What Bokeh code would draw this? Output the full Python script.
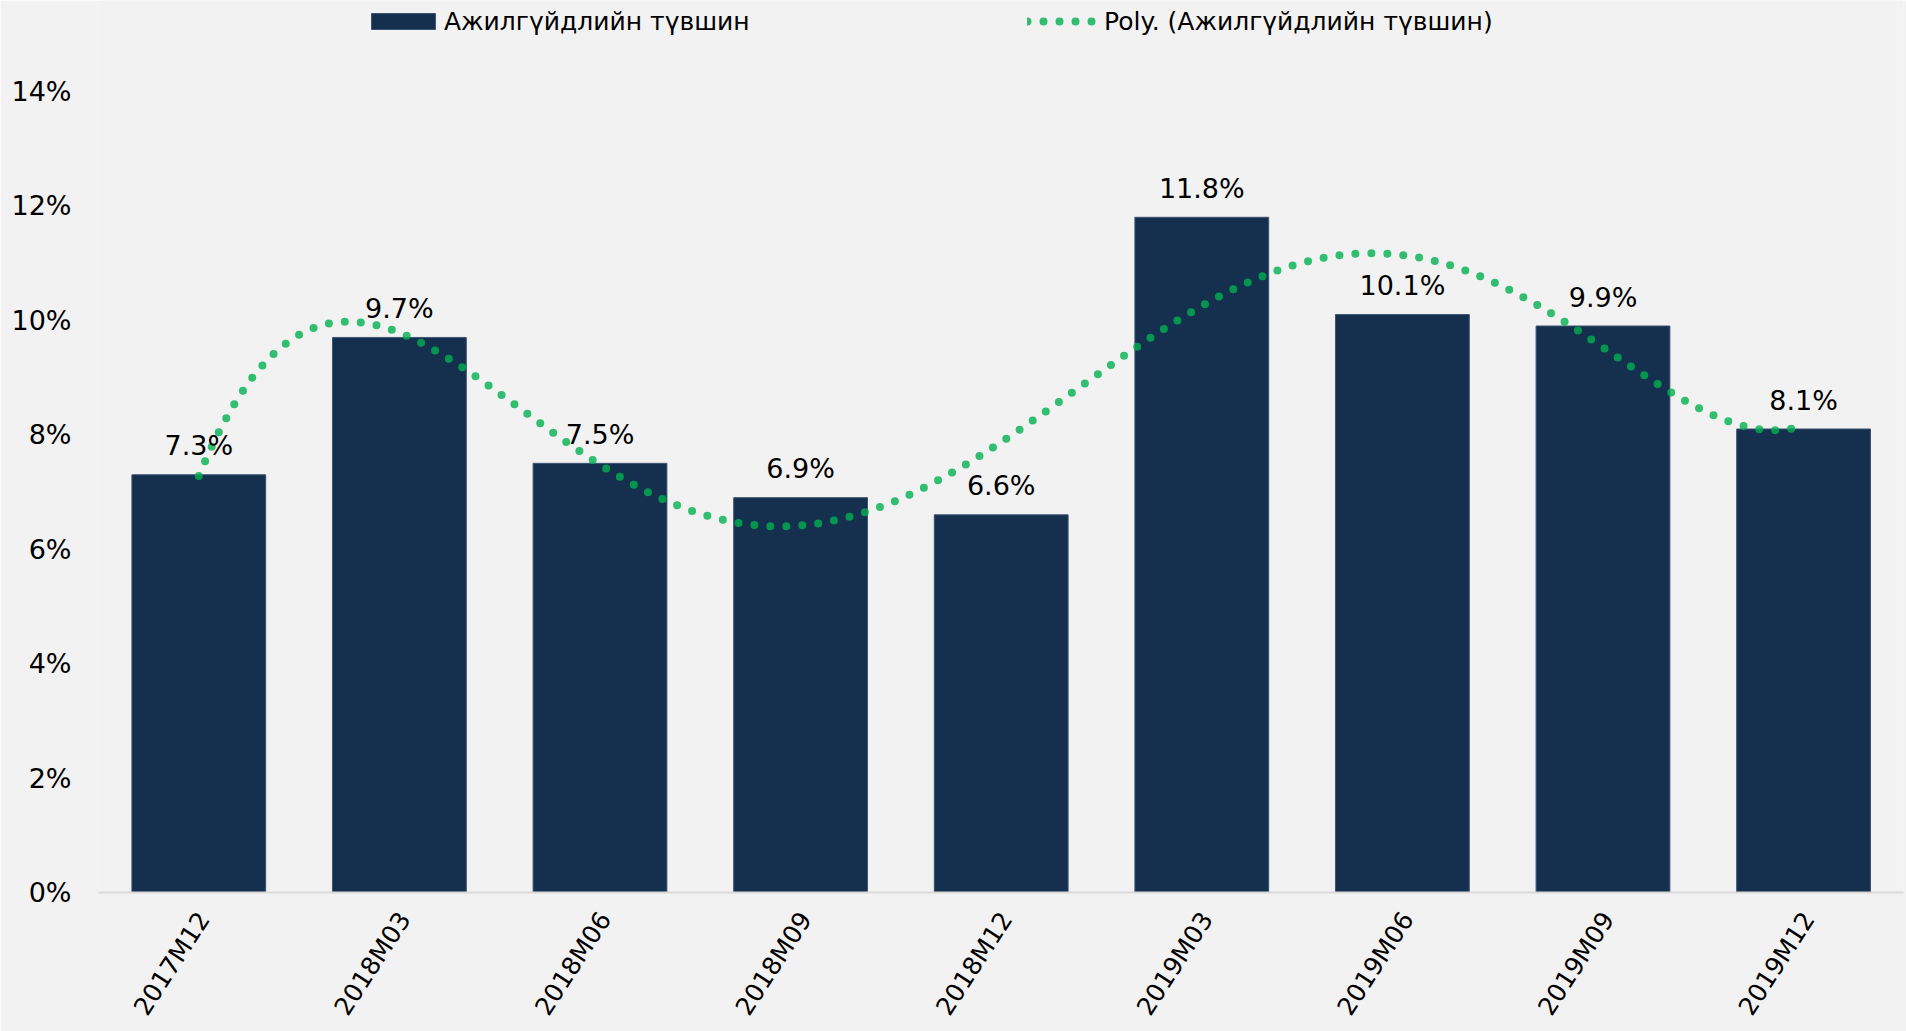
import numpy as np
from bokeh.plotting import figure
from bokeh.models import (ColumnDataSource, FixedTicker, NumeralTickFormatter,
                          Range1d, Legend, LegendItem)
from bokeh.core.properties import value
from bokeh.embed import file_html
from bokeh.resources import INLINE

# ---- data ----
categories = ["2017M12", "2018M03", "2018M06", "2018M09", "2018M12",
              "2019M03", "2019M06", "2019M09", "2019M12"]
unemployment = [0.073, 0.097, 0.075, 0.069, 0.066, 0.118, 0.101, 0.099, 0.081]
y_ticks = [0.0, 0.02, 0.04, 0.06, 0.08, 0.10, 0.12, 0.14]
series_name = "Ажилгүйдлийн түвшин"
trend_name = "Poly. (Ажилгүйдлийн түвшин)"
trend_order = 6

FONT = "DejaVu Sans"
BG = "#F2F2F2"
BAR = "#152F4E"
GREEN = "#00B050"

idx = list(range(len(categories)))
labels = [f"{v*100:.1f}%" for v in unemployment]
src = ColumnDataSource(dict(x=idx, y=unemployment, lab=labels))

# polynomial trendline (least squares fit of the bar series, like Excel)
coef = np.polyfit(idx, unemployment, trend_order)
tx = np.linspace(0, len(categories) - 1, 400)
ty = np.polyval(coef, tx)

W, H = 1906, 1031
FL, FR, FB = 98, 1903, 893      # frame left / right / bottom (page px)
p = figure(width=W, height=H, output_backend="svg", toolbar_location=None,
           x_range=Range1d(-0.5, -0.5 + (FR - FL) / 200.6),
           y_range=Range1d(0, 0.14 * FB / (FB - 91)),
           min_border_left=FL, min_border_right=W - FR, min_border_top=0,
           min_border_bottom=H - FB)
p.background_fill_color = BG
p.border_fill_color = BG
p.outline_line_color = None
p.xgrid.visible = False
p.ygrid.visible = False

bars = p.vbar(x="x", top="y", width=0.667, source=src, fill_color=BAR,
              line_color="#3D5470", line_width=1)
trend = p.line(tx, ty, line_color=GREEN, line_alpha=0.8, line_width=8,
               line_dash="0 16", line_cap="round")

p.text(x="x", y="y", text="lab", source=src, text_align="center",
       text_baseline="middle", y_offset=-29, text_font=value(FONT),
       text_font_size="27px", text_color="#000000")

# y axis
p.yaxis.ticker = FixedTicker(ticks=y_ticks)
p.yaxis.formatter = NumeralTickFormatter(format="0%")
p.yaxis.axis_line_color = None
p.yaxis.major_tick_line_color = None
p.yaxis.minor_tick_line_color = None
p.yaxis.major_tick_out = 0
p.yaxis.major_label_standoff = 27
p.yaxis.major_label_text_font = FONT
p.yaxis.major_label_text_font_size = "27px"
p.yaxis.major_label_text_color = "#000000"

# x axis (invisible ticks nudged slightly right so rotated labels end by the bar centre)
shift = 0.025
xt = [round(i + shift, 3) for i in idx]
p.xaxis.ticker = FixedTicker(ticks=xt)
p.xaxis.major_label_overrides = {t: c for t, c in zip(xt, categories)}
p.xaxis.axis_line_color = "#D9D9D9"
p.xaxis.axis_line_width = 2
p.xaxis.major_tick_line_color = None
p.xaxis.minor_tick_line_color = None
p.xaxis.major_tick_out = 0
p.xaxis.major_label_standoff = 22
p.xaxis.major_label_orientation = np.deg2rad(57)
p.xaxis.major_label_text_font = FONT
p.xaxis.major_label_text_font_size = "25px"
p.xaxis.major_label_text_color = "#000000"

def make_legend(item, x, gw, gh, standoff):
    lg = Legend(items=[item], location=(x, FB - 22 - 15), orientation="horizontal",
                glyph_width=gw, glyph_height=gh, label_standoff=standoff,
                label_height=30, padding=0, margin=0, spacing=0,
                border_line_color=None, background_fill_alpha=0,
                label_text_font=FONT, label_text_font_size="25px",
                label_text_color="#000000")
    p.add_layout(lg, "center")

make_legend(LegendItem(label=value(series_name), renderers=[bars]),
            363 - FL, 80, 20, 1)
make_legend(LegendItem(label=value(trend_name), renderers=[trend]),
            1027 - FL, 73, 20, 4)

open("out.html", "w").write(file_html(p, INLINE))
